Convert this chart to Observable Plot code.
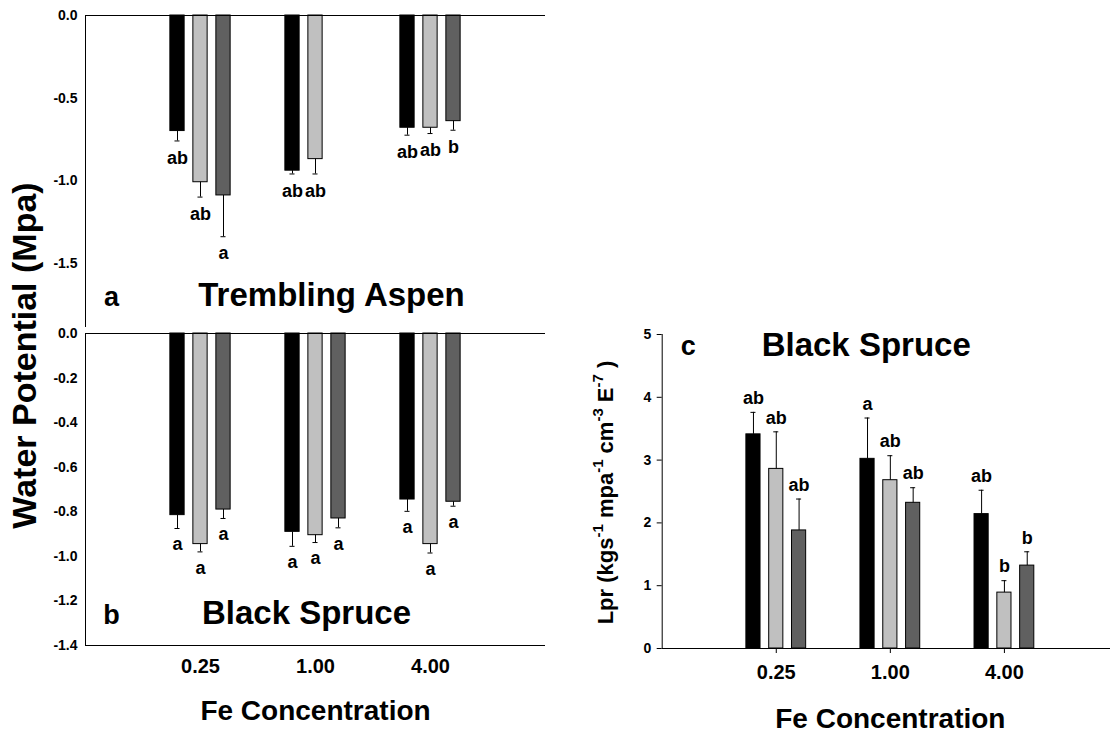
<!DOCTYPE html>
<html><head><meta charset="utf-8">
<script src="https://cdn.jsdelivr.net/npm/d3@7"></script>
<script src="https://cdn.jsdelivr.net/npm/@observablehq/plot@0.6"></script>
<style>
html,body{margin:0;padding:0;background:#fff;overflow:hidden;}
#fig{position:relative;width:1110px;height:736px;font-family:"Liberation Sans",Arial,sans-serif;font-weight:bold;}
#fig svg{position:absolute;overflow:visible;}
</style></head><body><div id="fig"></div>
<script>
// ---- data ----
const feLevels = ["0.25", "1.00", "4.00"];
const treatments = ["Treatment 1", "Treatment 2", "Treatment 3"];
const barColors = ["#000000", "#c0c0c0", "#606060"];

// (a) Trembling Aspen water potential (MPa), mean and SE, per Fe level x treatment
const aspenWPMean = [[-0.70, -1.01, -1.09], [-0.94, -0.87, null], [-0.68, -0.68, -0.64]];
const aspenWPSE   = [[0.06, 0.09, 0.25], [0.02, 0.09, null], [0.045, 0.035, 0.055]];
const aspenWPLetters = [["ab", "ab", "a"], ["ab", "ab", ""], ["ab", "ab", "b"]];
const aspenTicks = [0, -0.5, -1.0, -1.5];

// (b) Black Spruce water potential (MPa)
const spruceWPMean = [[-0.815, -0.945, -0.79], [-0.89, -0.905, -0.83], [-0.745, -0.945, -0.755]];
const spruceWPSE   = [[0.06, 0.035, 0.04], [0.065, 0.033, 0.042], [0.053, 0.04, 0.02]];
const spruceWPLetters = [["a", "a", "a"], ["a", "a", "a"], ["a", "a", "a"]];
const spruceWPTicks = [0, -0.2, -0.4, -0.6, -0.8, -1.0, -1.2, -1.4];

// (c) Black Spruce Lpr
const lprMean = [[3.41, 2.86, 1.88], [3.02, 2.68, 2.32], [2.14, 0.89, 1.32]];
const lprSE   = [[0.35, 0.59, 0.50], [0.65, 0.39, 0.24], [0.38, 0.19, 0.22]];
const lprLetters = [["ab", "ab", "ab"], ["a", "ab", "ab"], ["ab", "b", "b"]];
const lprTicks = [0, 1, 2, 3, 4, 5];

const wpTitle = "Water Potential (Mpa)";
const lprTitleParts = [["Lpr (kgs", false], ["-1", true], [" mpa", false], ["-1", true], [" cm", false], ["-3", true], [" E", false], ["-7", true], [" )", false]];
const xTitle = "Fe Concentration";

// ---- helpers ----
const HALF = 0.062, CAP = 0.022;
function rows(mean, se, letters, dir) {
  const out = [];
  feLevels.forEach((fe, i) => treatments.forEach((t, j) => {
    const v = mean[i][j];
    if (v == null) return;
    out.push({fe, treatment: t, value: v, end: v + dir * se[i][j], letter: letters[i][j], xc: i + 1 + (j - 1) * 0.2});
  }));
  return out;
}
const st = {fontFamily: "'Liberation Sans', Arial, sans-serif", fontWeight: "bold", background: "none", overflow: "visible", color: "black"};
const colorOpt = {domain: treatments, range: barColors};
function barMarks(D, labelDy) {
  return [
    Plot.rect(D, {x1: d => d.xc - HALF, x2: d => d.xc + HALF, y1: d => 0, y2: "value", fill: "treatment", stroke: "black", strokeWidth: 1}),
    Plot.ruleX(D, {x: "xc", y1: "value", y2: "end", stroke: "black", strokeWidth: 1}),
    Plot.ruleY(D, {y: "end", x1: d => d.xc - CAP, x2: d => d.xc + CAP, stroke: "black", strokeWidth: 1}),
    Plot.text(D, {x: "xc", y: "end", text: "letter", dy: labelDy, fontSize: 18, fontWeight: "bold", lineAnchor: "middle", fill: "black"})
  ];
}
const fig = document.getElementById("fig");
function place(svg, left, top) { svg.style.left = left + "px"; svg.style.top = top + "px"; fig.appendChild(svg); }

// ---- panel a ----
const A = rows(aspenWPMean, aspenWPSE, aspenWPLetters, -1);
const pa = Plot.plot({
  width: 560, height: 335, marginLeft: 85, marginRight: 15, marginTop: 15, marginBottom: 8,
  style: st,
  x: {domain: [0, 4], axis: null},
  y: {domain: [-1.89, 0], axis: null},
  color: colorOpt,
  marks: [
    ...barMarks(A, 17),
    Plot.axisY({ticks: aspenTicks, tickFormat: d => d.toFixed(1), tickSize: 0, tickPadding: 8, fontSize: 14, fontWeight: "bold"}),
    Plot.ruleX([0], {stroke: "black"}),
    Plot.ruleY([0], {stroke: "black"}),
    Plot.text(["a"], {text: d => d, frameAnchor: "top-left", dx: 26, dy: 281.5, textAnchor: "middle", lineAnchor: "middle", fontSize: 27, fontWeight: "bold"}),
    Plot.text(["Trembling Aspen"], {text: d => d, frameAnchor: "top-left", dx: 246, dy: 280, textAnchor: "middle", lineAnchor: "middle", fontSize: 33, fontWeight: "bold"})
  ]
});
place(pa, 0, 0);

// ---- panel b ----
const B = rows(spruceWPMean, spruceWPSE, spruceWPLetters, -1);
const pb = Plot.plot({
  width: 560, height: 416, marginLeft: 85, marginRight: 15, marginTop: 13, marginBottom: 91,
  style: st,
  x: {domain: [0, 4]},
  y: {domain: [-1.4, 0]},
  color: colorOpt,
  marks: [
    ...barMarks(B, 16),
    Plot.axisY({ticks: spruceWPTicks, tickFormat: d => d.toFixed(1), tickSize: 0, tickPadding: 8, fontSize: 14, fontWeight: "bold", label: null}),
    Plot.axisX({ticks: [1, 2, 3], tickFormat: i => feLevels[i - 1], tickSize: 0, tickPadding: 13, fontSize: 20, fontWeight: "bold", label: null}),
    Plot.ruleX([0], {stroke: "black"}),
    Plot.ruleY([0, -1.4], {stroke: "black"}),
    Plot.text(["b"], {text: d => d, frameAnchor: "top-left", dx: 26, dy: 281.5, textAnchor: "middle", lineAnchor: "middle", fontSize: 27, fontWeight: "bold"}),
    Plot.text(["Black Spruce"], {text: d => d, frameAnchor: "top-left", dx: 221, dy: 280, textAnchor: "middle", lineAnchor: "middle", fontSize: 33, fontWeight: "bold"}),
    Plot.text([xTitle], {text: d => d, x: d => 2, frameAnchor: "top", dy: 378, textAnchor: "middle", lineAnchor: "middle", fontSize: 28, fontWeight: "bold"}),
    Plot.text([wpTitle], {text: d => d, frameAnchor: "top-left", dx: -60, dy: 22, rotate: -90, textAnchor: "middle", lineAnchor: "middle", fontSize: 34, fontWeight: "bold"})
  ]
});
place(pb, 0, 320);

// ---- panel c ----
const C = rows(lprMean, lprSE, lprLetters, 1);
const lprTitle = lprTitleParts.map(p => p[0]).join("");
const pc = Plot.plot({
  width: 550, height: 416, marginLeft: 101.7, marginRight: 0, marginTop: 14, marginBottom: 88,
  style: st,
  x: {domain: [0, 3.93]},
  y: {domain: [0, 5]},
  color: colorOpt,
  marks: [
    ...barMarks(C, -14),
    Plot.axisY({ticks: lprTicks, tickFormat: d => String(d), tickSize: 5, tickPadding: 6, fontSize: 14, fontWeight: "bold", label: null}),
    Plot.axisX({ticks: [1, 2, 3], tickFormat: i => feLevels[i - 1], tickSize: 5, tickPadding: 11, fontSize: 20, fontWeight: "bold", label: null}),
    Plot.ruleX([0], {stroke: "black"}),
    Plot.ruleY([0], {stroke: "black"}),
    Plot.text(["c"], {text: d => d, frameAnchor: "top-left", dx: 26, dy: 11.5, textAnchor: "middle", lineAnchor: "middle", fontSize: 27, fontWeight: "bold"}),
    Plot.text(["Black Spruce"], {text: d => d, frameAnchor: "top-left", dx: 204, dy: 11, textAnchor: "middle", lineAnchor: "middle", fontSize: 33, fontWeight: "bold"}),
    Plot.text([xTitle], {text: d => d, x: d => 2, frameAnchor: "top", dy: 385, textAnchor: "middle", lineAnchor: "middle", fontSize: 28, fontWeight: "bold"}),
    Plot.text([lprTitle], {text: d => d, frameAnchor: "top-left", dx: -56, dy: 158, rotate: -90, textAnchor: "middle", lineAnchor: "middle", fontSize: 22, fontWeight: "bold"})
  ]
});
place(pc, 560, 320);

// superscripts in the Lpr title
d3.select(pc).selectAll("text").filter(function() { return this.textContent === lprTitle; }).each(function() {
  const t = d3.select(this);
  t.text(null);
  let raised = false;
  lprTitleParts.forEach(([s, sup]) => {
    const ts = t.append("tspan").text(s);
    if (sup && !raised) { ts.attr("font-size", 15).attr("dy", -10); raised = true; }
    else if (!sup && raised) { ts.attr("dy", 10); raised = false; }
  });
});
</script></body></html>
